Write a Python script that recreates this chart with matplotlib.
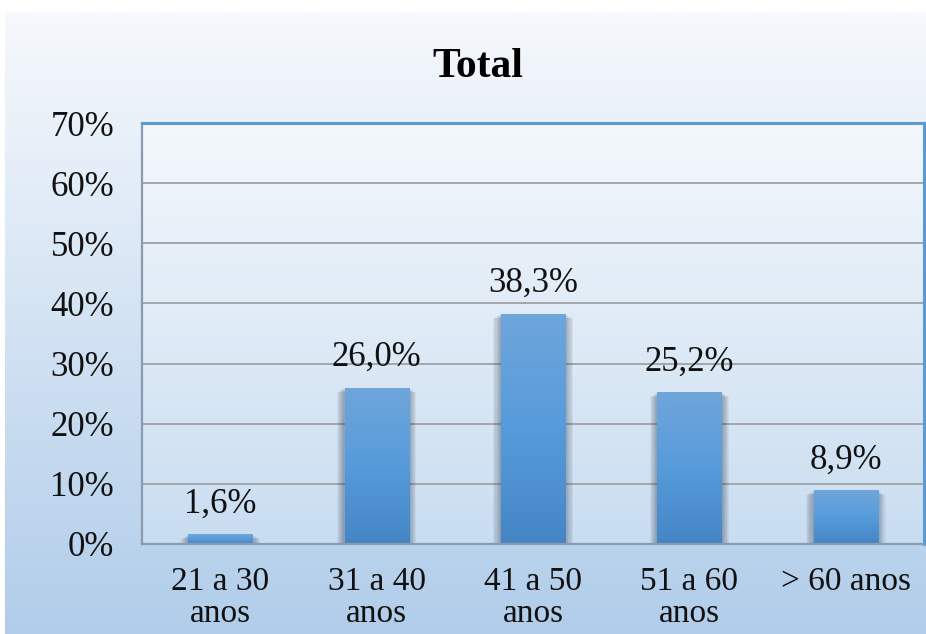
import numpy as np
import matplotlib
matplotlib.use("Agg")
import matplotlib.pyplot as plt
from matplotlib.colors import LinearSegmentedColormap
from matplotlib.patches import Rectangle

categories = ["21 a 30\nanos", "31 a 40\nanos", "41 a 50\nanos", "51 a 60\nanos", "> 60 anos"]
values = [1.6, 26.0, 38.3, 25.2, 8.9]
labels = ["1,6%", "26,0%", "38,3%", "25,2%", "8,9%"]
yticks = [0, 10, 20, 30, 40, 50, 60, 70]

plt.rcParams["font.family"] = ["Liberation Serif", "DejaVu Serif"]

W, H = 926, 634
fig = plt.figure(figsize=(W / 100, H / 100), dpi=100)
fig.patch.set_facecolor("white")

# chart area background (white -> light blue gradient)
bg = fig.add_axes([5 / W, 0, 1 - 5 / W, (H - 12) / H], zorder=0)
bg_cmap = LinearSegmentedColormap.from_list("bg", ["#b1cdea", "#f6f9fd"])
bg.imshow(np.linspace(0, 1, 256).reshape(-1, 1), aspect="auto", cmap=bg_cmap,
          origin="lower", extent=[0, 1, 0, 1])
bg.axis("off")

ax = fig.add_axes([142 / W, (H - 544) / H, (924 - 142) / W, (544 - 123) / H], zorder=1)
ax.set_xlim(-0.5, len(values) - 0.5)
ax.set_ylim(0, 70)

# plot area gradient
pa_cmap = LinearSegmentedColormap.from_list("pa", ["#c9ddf1", "#f4f8fc"])
ax.imshow(np.linspace(0, 1, 256).reshape(-1, 1), aspect="auto", cmap=pa_cmap,
          origin="lower", extent=[-0.5, len(values) - 0.5, 0, 70], zorder=0)

for t in yticks[1:-1]:
    ax.axhline(t, color="#a3a7ab", lw=1.4, zorder=1)

bar_cmap = LinearSegmentedColormap.from_list("bar", ["#4585c6", "#579bdb", "#6fa6db"])
bw = 0.41
for i, v in enumerate(values):
    # soft shadow
    for k in range(1, 8):
        dx = 0.007 * k
        dy = 0.22 * k
        ax.add_patch(Rectangle((i - bw / 2 - dx, -dy), bw + 2 * dx, v + dy * 0.5,
                               facecolor="#1f2d3d", alpha=0.06, lw=0, zorder=2))
    rect = Rectangle((i - bw / 2, 0), bw, v, facecolor="none", lw=0, zorder=3)
    ax.add_patch(rect)
    im = ax.imshow(np.linspace(0, 1, 256).reshape(-1, 1), aspect="auto", cmap=bar_cmap,
                   origin="lower", extent=[i - bw / 2, i + bw / 2, 0, v], zorder=3)
    im.set_clip_path(rect)
    ax.annotate(labels[i], (i, v), xytext=(0, 10), textcoords="offset points",
                ha="center", va="bottom", fontsize=25, color="#111111", zorder=4)

ax.set_xlim(-0.5, len(values) - 0.5)
ax.set_ylim(0, 70)
ax.set_xticks(range(len(values)))
ax.set_xticklabels(categories, fontsize=24, va="top", linespacing=1.08)
ax.set_yticks(yticks)
ax.set_yticklabels([f"{t}%" for t in yticks], fontsize=25)
ax.tick_params(axis="both", length=0, colors="#111111")
ax.tick_params(axis="x", pad=16)
ax.tick_params(axis="y", pad=20)

ax.spines["top"].set_color("#5b9bd5")
ax.spines["right"].set_color("#5b9bd5")
ax.spines["top"].set_linewidth(2.2)
ax.spines["right"].set_linewidth(2.2)
ax.spines["left"].set_color("#8a9bb0")
ax.spines["bottom"].set_color("#8a9bb0")
ax.spines["left"].set_linewidth(1.6)
ax.spines["bottom"].set_linewidth(1.6)
for s in ax.spines.values():
    s.set_zorder(5)

fig.text(478 / W, 1 - 67 / H, "Total", ha="center", va="center",
         fontsize=30, fontweight="bold", color="black")

fig.savefig("out.png", dpi=100)
